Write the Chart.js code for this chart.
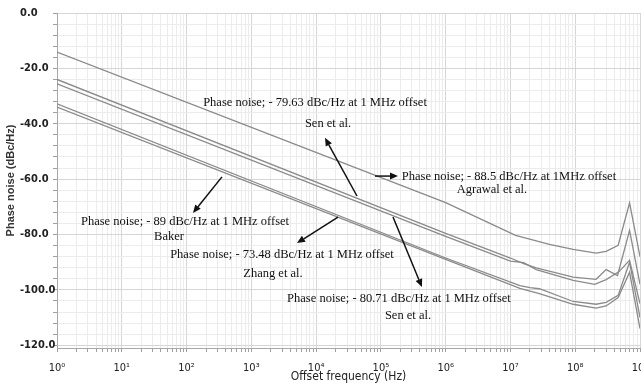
<!DOCTYPE html>
<html>
<head>
<meta charset="utf-8">
<script src="https://cdn.jsdelivr.net/npm/chart.js@4.4.1/dist/chart.umd.min.js"></script>
<style>
  body { margin: 0; background: #fff; }
  #wrap { width: 641px; height: 383px; }
</style>
</head>
<body>
<div id="wrap"><canvas id="pnChart" width="641" height="383"></canvas></div>
<script>
// offset frequency (Hz) and phase noise (dBc/Hz)
const freqA = [1, 1e6, 1.2e7, 4e7, 9.3e7, 2.1e8, 3e8, 4.6e8, 6.9e8, 1e9];
const noiseA = [-14.1, -68.5, -80.3, -83.6, -85.4, -86.7, -86.1, -83.9, -68.6, -88];

const freqB = [1, 1e6, 1e7, 1.6e7, 2.5e7, 9.3e7, 2.1e8, 3e8, 4.5e8, 6.9e8, 1e9];
const noiseB = [-24, -79.6, -88.5, -90.5, -92.1, -95.4, -96.2, -92.7, -94.8, -78.5, -98];

const freqC = [1, 1e6, 1e7, 1.6e7, 2.5e7, 9.3e7, 2e8, 3e8, 4.7e8, 6.9e8, 1e9];
const noiseC = [-25.6, -80.7, -89.6, -90.2, -92.7, -96.6, -98, -96.3, -93.5, -89.3, -105];

const freqD = [1, 1e6, 1.4e7, 2e7, 2.8e7, 9.3e7, 2.1e8, 3e8, 4.6e8, 6.9e8, 1e9];
const noiseD = [-32.8, -88.5, -98.5, -99.2, -99.6, -104.2, -105.2, -104.5, -102, -90, -110];

const freqE = [1, 1e6, 1.4e7, 2e7, 2.8e7, 9.3e7, 2.1e8, 3e8, 4.6e8, 6.9e8, 1e9];
const noiseE = [-34, -89, -99.5, -100.5, -101.4, -105.2, -106.6, -105.8, -102.8, -93.6, -114];

const yLabelled = [0, -20, -40, -60, -80, -100, -120];

// notes: [log10(freq), dB, text]
const notes = [
  [3.983, -32.5, 'Phase noise; - 79.63 dBc/Hz at 1 MHz offset'],
  [4.183, -40.1, 'Sen et al.'],
  [6.977, -59.2, 'Phase noise; - 88.5 dBc/Hz at 1MHz offset'],
  [6.715, -63.9, 'Agrawal et al.'],
  [1.976, -75.5, 'Phase noise; - 89 dBc/Hz at 1 MHz offset'],
  [1.729, -80.9, 'Baker'],
  [3.473, -87.4, 'Phase noise; - 73.48 dBc/Hz at 1 MHz offset'],
  [3.334, -94.3, 'Zhang et al.'],
  [5.279, -103.3, 'Phase noise; - 80.71 dBc/Hz at 1 MHz offset'],
  [5.418, -109.4, 'Sen et al.']
];
// arrows: [fromLog, fromDb, toLog, toDb]
const arrows = [
  [4.631, -66.1, 4.137, -45.1],
  [4.909, -58.9, 5.264, -58.9],
  [2.547, -59.2, 2.099, -72.2],
  [4.338, -73.7, 3.705, -83.1],
  [5.187, -73.7, 5.634, -99.0]
];

const sup = ['\u2070', '\u00b9', '\u00b2', '\u00b3', '\u2074', '\u2075', '\u2076', '\u2077', '\u2078', '\u2079'];
const narrow = "'Liberation Sans Narrow', 'DejaVu Sans Condensed', sans-serif";

function toPoints(f, v) {
  return f.map((x, i) => ({ x: x, y: v[i] }));
}

function curve(f, v) {
  return {
    data: toPoints(f, v),
    borderColor: '#8a8a8a',
    borderWidth: 1.3,
    pointRadius: 0,
    tension: 0,
    fill: false
  };
}

// annotations drawn through the scales
const notesPlugin = {
  id: 'notes',
  afterDatasetsDraw(chart) {
    const ctx = chart.ctx;
    const xs = chart.scales.x;
    const ys = chart.scales.y;
    ctx.save();
    ctx.fillStyle = '#111';
    ctx.font = "12.5px 'Liberation Serif', 'Times New Roman', serif";
    ctx.textAlign = 'center';
    ctx.textBaseline = 'middle';
    notes.forEach(n => {
      ctx.fillText(n[2], xs.getPixelForValue(Math.pow(10, n[0])), ys.getPixelForValue(n[1]));
    });
    ctx.strokeStyle = '#111';
    ctx.lineWidth = 1.5;
    arrows.forEach(a => {
      const x1 = xs.getPixelForValue(Math.pow(10, a[0]));
      const y1 = ys.getPixelForValue(a[1]);
      const x2 = xs.getPixelForValue(Math.pow(10, a[2]));
      const y2 = ys.getPixelForValue(a[3]);
      const ang = Math.atan2(y2 - y1, x2 - x1);
      const hl = 8, hw = 3.5;
      const bx = x2 - hl * Math.cos(ang);
      const by = y2 - hl * Math.sin(ang);
      ctx.beginPath();
      ctx.moveTo(x1, y1);
      ctx.lineTo(bx, by);
      ctx.stroke();
      ctx.beginPath();
      ctx.moveTo(x2, y2);
      ctx.lineTo(bx - hw * Math.sin(ang), by + hw * Math.cos(ang));
      ctx.lineTo(bx + hw * Math.sin(ang), by - hw * Math.cos(ang));
      ctx.closePath();
      ctx.fill();
    });
    ctx.restore();
  }
};

const ctx = document.getElementById('pnChart').getContext('2d');
new Chart(ctx, {
  type: 'line',
  data: {
    datasets: [
      curve(freqA, noiseA),
      curve(freqB, noiseB),
      curve(freqC, noiseC),
      curve(freqD, noiseD),
      curve(freqE, noiseE)
    ]
  },
  options: {
    responsive: false,
    animation: false,
    layout: { padding: { top: 13, right: 1, left: 20, bottom: 0 } },
    plugins: {
      legend: { display: false },
      tooltip: { enabled: false }
    },
    scales: {
      x: {
        type: 'logarithmic',
        min: 1,
        max: 1e9,
        afterBuildTicks: scale => {
          const t = [];
          for (let d = 0; d < 9; d++) {
            for (let m = 1; m < 10; m++) t.push({ value: m * Math.pow(10, d) });
          }
          t.push({ value: 1e9 });
          scale.ticks = t;
        },
        afterFit: scale => {
          scale.height = 35;
          scale.paddingLeft = 0;
          scale.paddingRight = 0;
        },
        ticks: {
          autoSkip: false,
          maxRotation: 0,
          padding: 10,
          color: '#222',
          font: { family: narrow, size: 11 },
          callback: function (value) {
            const p = Math.log10(value);
            if (Math.abs(p - Math.round(p)) > 1e-9) return '';
            return '10' + sup[Math.round(p)];
          }
        },
        grid: {
          tickLength: 4,
          color: c => {
            const p = Math.log10(c.tick.value);
            return Math.abs(p - Math.round(p)) < 1e-9 ? '#d6d6d6' : '#ececec';
          },
          tickColor: '#a0a0a0'
        },
        border: { color: '#a8a8a8' },
        title: {
          display: true,
          text: 'Offset frequency (Hz)',
          color: '#222',
          font: { family: narrow, size: 12 },
          padding: { top: 0, bottom: -1 }
        }
      },
      y: {
        type: 'linear',
        min: -121,
        max: 0,
        afterBuildTicks: scale => {
          const t = [];
          for (let v = 0; v >= -120; v -= 4) t.push({ value: v });
          scale.ticks = t;
        },
        afterFit: scale => {
          scale.width = 37;
          scale.paddingTop = 0;
          scale.paddingBottom = 0;
        },
        ticks: {
          autoSkip: false,
          crossAlign: 'far',
          padding: 4,
          color: '#222',
          font: { family: narrow, size: 11, weight: 'bold' },
          callback: function (value) {
            return yLabelled.includes(value) ? value.toFixed(1) : '';
          }
        },
        grid: {
          tickLength: 4,
          color: c => (yLabelled.includes(c.tick.value) ? '#d6d6d6' : '#ececec'),
          tickColor: '#a0a0a0'
        },
        border: { color: '#a8a8a8' },
        title: {
          display: true,
          text: 'Phase noise (dBc/Hz)',
          color: '#333',
          font: { family: "'Liberation Sans', Arial, sans-serif", size: 11, weight: 'bold' },
          padding: { top: -16, bottom: 0 }
        }
      }
    }
  },
  plugins: [notesPlugin]
});
</script>
</body>
</html>
